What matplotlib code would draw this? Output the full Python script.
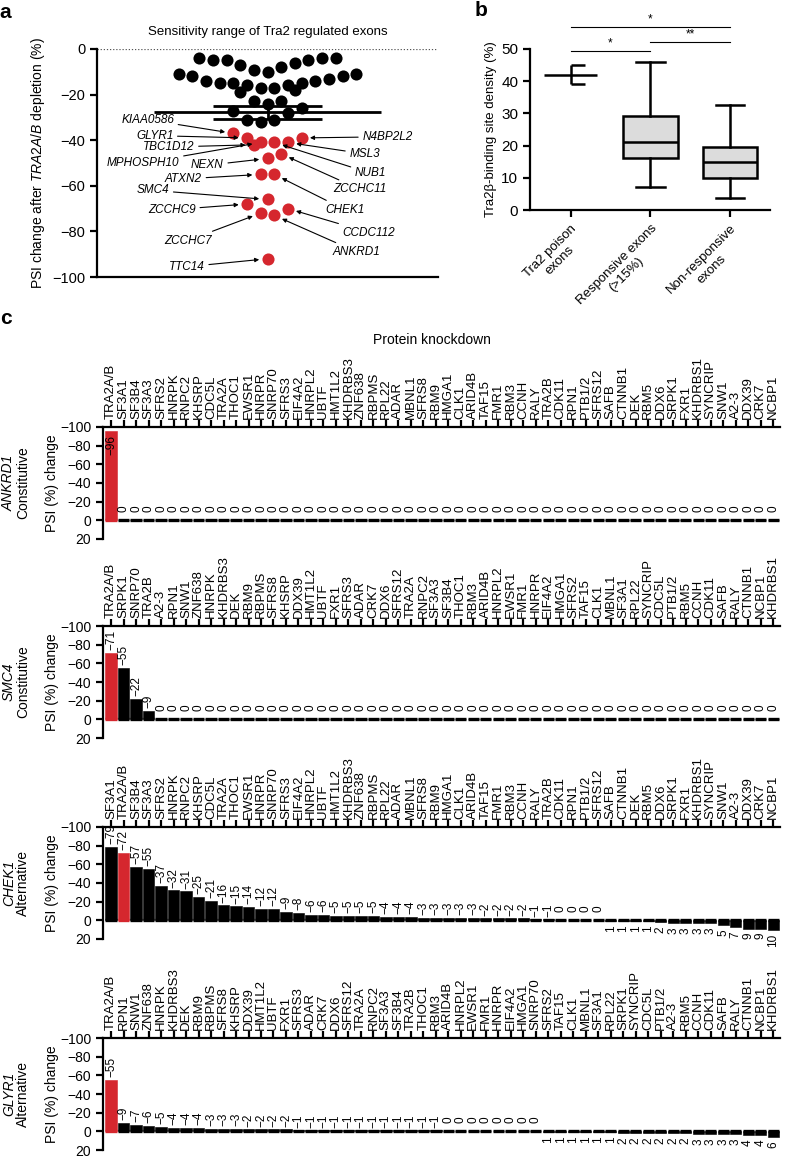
import numpy as np
import matplotlib
matplotlib.use("Agg")
import matplotlib.pyplot as plt

plt.rcParams['font.family'] = ['Liberation Sans', 'DejaVu Sans']
plt.rcParams['mathtext.fontset'] = 'custom'
plt.rcParams['mathtext.rm'] = 'Liberation Sans'
plt.rcParams['mathtext.it'] = 'Liberation Sans:italic'
plt.rcParams['axes.linewidth'] = 1.6
plt.rcParams['xtick.major.width'] = 1.6
plt.rcParams['ytick.major.width'] = 1.6

RED = '#d5272e'
W, H = 788, 1159

# ---- panel a: PSI change of Tra2 regulated exons (swarm position, value)
black_x = [-10, -8, -6, -4, -2, 0, 2, 4, 6, 8, 10,
           -13, -11, -9, -7, -5, -3, -1, 1, 3, 4, 5, 7, 9, 11, 13, -4,
           -2, 0, 2, -5, 5, 3, -3, -1, 1]
black_psi = [-4, -5, -5, -7, -9, -10, -8, -6, -5, -4, -4,
             -11, -12, -14, -15, -15, -16, -17, -17, -16, -18, -15, -14, -13, -12, -11, -19,
             -23, -24, -23, -27, -26, -28, -31, -32, -31]
red_x = [-5, -3, -2, -1, 1, 3, 5, 2, 0, -1, 1, 0, -3, -1, 1, 3, 0]
red_psi = [-37, -39, -42, -41, -41, -41, -39, -46, -48, -55, -55, -66, -68, -72, -73, -70, -92]
red_genes = ["KIAA0586", "GLYR1", "TBC1D12", "MPHOSPH10", "NUB1", "MSL3", "N4BP2L2",
             "ZCCHC11", "NEXN", "ATXN2", "CHEK1", "SMC4", "ZCCHC9", "ZCCHC7", "ANKRD1",
             "CCDC112", "TTC14"]
# label text positions (x, y, side)
label_pos = {
    "KIAA0586": (-13.7, -31, 'right'), "GLYR1": (-13.8, -38, 'right'),
    "TBC1D12": (-10.7, -43, 'right'), "MPHOSPH10": (-12.9, -50, 'right'),
    "NEXN": (-6.4, -51, 'right'), "ATXN2": (-9.6, -57, 'right'),
    "SMC4": (-14.4, -62, 'right'), "ZCCHC9": (-10.5, -70.5, 'right'),
    "ZCCHC7": (-8.2, -84, 'right'), "TTC14": (-9.2, -95.5, 'right'),
    "N4BP2L2": (13.9, -38.5, 'left'), "MSL3": (12.0, -46, 'left'),
    "NUB1": (12.8, -54.5, 'left'), "ZCCHC11": (9.6, -61.5, 'left'),
    "CHEK1": (8.5, -70.5, 'left'), "CCDC112": (11.0, -80.5, 'left'),
    "ANKRD1": (9.6, -89, 'left'),
}

# ---- panel b: Tra2beta binding site density
poison_mean = 42
poison_range = (39, 45)
box_names = ["Tra2 poison\nexons", "Responsive exons\n(>15%)", "Non-responsive\nexons"]
resp_stats = dict(whislo=7.2, q1=16, med=21.2, q3=29.3, whishi=46)
nonresp_stats = dict(whislo=3.8, q1=10, med=15, q3=19.5, whishi=32.6)

# ---- panel c: PSI change per protein knockdown
order_ankrd1 = ["TRA2A/B", "SF3A1", "SF3B4", "SF3A3", "SFRS2", "HNRPK", "RNPC2", "KHSRP", "CDC5L",
                "TRA2A", "THOC1", "EWSR1", "HNRPR", "SNRP70", "SFRS3", "EIF4A2", "HNRPL2", "UBTF",
                "HMT1L2", "KHDRBS3", "ZNF638", "RBPMS", "RPL22", "ADAR", "MBNL1", "SFRS8", "RBM9",
                "HMGA1", "CLK1", "ARID4B", "TAF15", "FMR1", "RBM3", "CCNH", "RALY", "TRA2B", "CDK11",
                "RPN1", "PTB1/2", "SFRS12", "SAFB", "CTNNB1", "DEK", "RBM5", "DDX6", "SRPK1", "FXR1",
                "KHDRBS1", "SYNCRIP", "SNW1", "A2-3", "DDX39", "CRK7", "NCBP1"]
psi_ankrd1 = [-96, 0, 0, 0, 0, 0, 0, 0, 0, 0, 0, 0, 0, 0, 0, 0, 0, 0, 0, 0, 0, 0, 0, 0, 0, 0, 0,
              0, 0, 0, 0, 0, 0, 0, 0, 0, 0, 0, 0, 0, 0, 0, 0, 0, 0, 0, 0, 0, 0, 0, 0, 0, 0, 0]

order_smc4 = ["TRA2A/B", "SRPK1", "SNRP70", "TRA2B", "A2-3", "RPN1", "SNW1", "ZNF638", "HNRPK",
              "KHDRBS3", "DEK", "RBM9", "RBPMS", "SFRS8", "KHSRP", "DDX39", "HMT1L2", "UBTF", "FXR1",
              "SFRS3", "ADAR", "CRK7", "DDX6", "SFRS12", "TRA2A", "RNPC2", "SF3A3", "SF3B4", "THOC1",
              "RBM3", "ARID4B", "HNRPL2", "EWSR1", "FMR1", "HNRPR", "EIF4A2", "HMGA1", "SFRS2",
              "TAF15", "CLK1", "MBNL1", "SF3A1", "RPL22", "SYNCRIP", "CDC5L", "PTB1/2", "RBM5",
              "CCNH", "CDK11", "SAFB", "RALY", "CTNNB1", "NCBP1", "KHDRBS1"]
psi_smc4 = [-71, -55, -22, -9, 0, 0, 0, 0, 0, 0, 0, 0, 0, 0, 0, 0, 0, 0, 0, 0, 0, 0, 0, 0, 0, 0, 0,
            0, 0, 0, 0, 0, 0, 0, 0, 0, 0, 0, 0, 0, 0, 0, 0, 0, 0, 0, 0, 0, 0, 0, 0, 0, 0, 0]

order_chek1 = ["SF3A1", "TRA2A/B", "SF3B4", "SF3A3", "SFRS2", "HNRPK", "RNPC2", "KHSRP", "CDC5L",
               "TRA2A", "THOC1", "EWSR1", "HNRPR", "SNRP70", "SFRS3", "EIF4A2", "HNRPL2", "UBTF",
               "HMT1L2", "KHDRBS3", "ZNF638", "RBPMS", "RPL22", "ADAR", "MBNL1", "SFRS8", "RBM9",
               "HMGA1", "CLK1", "ARID4B", "TAF15", "FMR1", "RBM3", "CCNH", "RALY", "TRA2B", "CDK11",
               "RPN1", "PTB1/2", "SFRS12", "SAFB", "CTNNB1", "DEK", "RBM5", "DDX6", "SRPK1", "FXR1",
               "KHDRBS1", "SYNCRIP", "SNW1", "A2-3", "DDX39", "CRK7", "NCBP1"]
psi_chek1 = [-79, -72, -57, -55, -37, -32, -31, -25, -21, -16, -15, -14, -12, -12, -9, -8, -6, -6,
             -5, -5, -5, -5, -4, -4, -4, -3, -3, -3, -3, -3, -2, -2, -2, -2, -1, -1, 0, 0, 0, 0,
             1, 1, 1, 1, 2, 3, 3, 3, 3, 5, 7, 9, 9, 10]

order_glyr1 = ["TRA2A/B", "RPN1", "SNW1", "ZNF638", "HNRPK", "KHDRBS3", "DEK", "RBM9", "RBPMS",
               "SFRS8", "KHSRP", "DDX39", "HMT1L2", "UBTF", "FXR1", "SFRS3", "ADAR", "CRK7", "DDX6",
               "SFRS12", "TRA2A", "RNPC2", "SF3A3", "SF3B4", "TRA2B", "THOC1", "RBM3", "ARID4B",
               "HNRPL2", "EWSR1", "FMR1", "HNRPR", "EIF4A2", "HMGA1", "SNRP70", "SFRS2", "TAF15",
               "CLK1", "MBNL1", "SF3A1", "RPL22", "SRPK1", "SYNCRIP", "CDC5L", "PTB1/2", "A2-3",
               "RBM5", "CCNH", "CDK11", "SAFB", "RALY", "CTNNB1", "NCBP1", "KHDRBS1"]
psi_glyr1 = [-55, -9, -7, -6, -5, -4, -4, -4, -3, -3, -3, -2, -2, -2, -2,
             -1, -1, -1, -1, -1, -1, -1, -1, -1, -1, -1, -1, 0, 0, 0, 0, 0, 0, 0, 0,
             1, 1, 1, 1, 1, 1, 2, 2, 2, 2, 2, 2, 3, 3, 3, 3, 4, 4, 6]

fig = plt.figure(figsize=(W / 100, H / 100), dpi=100)

# ================= panel a =================
ax = fig.add_axes([97 / W, 1 - 277 / H, 341 / W, 228 / H])
ax.scatter(black_x, black_psi, s=76, color='black', zorder=3, linewidths=0)
ax.scatter(red_x, red_psi, s=76, color=RED, zorder=3, linewidths=0)
allv = np.array(black_psi + red_psi, dtype=float)
m = allv.mean()
sem = allv.std(ddof=1) / np.sqrt(len(allv))
ax.hlines(m, -16.7, 16.7, color='black', lw=2, zorder=4)
ax.hlines([m - sem, m + sem], -8, 8, color='black', lw=2, zorder=4)
ax.vlines(0, m - sem, m + sem, color='black', lw=2, zorder=4)
ax.axhline(0, color='#555555', lw=0.9, ls=(0, (1, 1.5)))
for i, g in enumerate(red_genes):
    tx, ty, side = label_pos[g]
    ax.annotate(g, xy=(red_x[i], red_psi[i]), xytext=(tx, ty), ha=side, va='center',
                fontsize=8.5, fontstyle='italic',
                arrowprops=dict(arrowstyle='-|>', color='black', lw=0.8,
                                mutation_scale=6, shrinkA=1, shrinkB=6))
ax.set_xlim(-25, 25)
ax.set_ylim(-100, 0)
ax.set_yticks([0, -20, -40, -60, -80, -100])
ax.set_xticks([])
ax.tick_params(axis='y', labelsize=10.5, length=5, direction='out')
ax.spines['top'].set_visible(False)
ax.spines['right'].set_visible(False)
ax.set_ylabel(r"PSI change after $\it{TRA2A/B}$ depletion (%)", fontsize=10, labelpad=4)
ax.set_title("Sensitivity range of Tra2 regulated exons", fontsize=9.5, pad=10)

# ================= panel b =================
ax = fig.add_axes([530 / W, 1 - 210 / H, 240 / W, 161 / H])
ax.hlines(poison_mean, 0.67, 1.33, color='black', lw=1.8)
ax.vlines(1, poison_range[0], poison_range[1], color='black', lw=1.8)
ax.hlines(list(poison_range), 1, 1.18, color='black', lw=1.8)
ax.bxp([resp_stats, nonresp_stats], positions=[2, 3], widths=0.68, capwidths=0.36,
       patch_artist=True, showfliers=False,
       boxprops=dict(facecolor='#dcdcdc', edgecolor='black', linewidth=1.8),
       medianprops=dict(color='black', linewidth=1.8),
       whiskerprops=dict(color='black', linewidth=1.8),
       capprops=dict(color='black', linewidth=1.8))
for x0, x1, yl, star in [(1, 1.99, 49.4, '*'), (2.0, 3.0, 52.2, '**'), (1, 3, 56.8, '*')]:
    ax.plot([x0, x1], [yl, yl], color='black', lw=0.8, clip_on=False)
    ax.text((x0 + x1) / 2, yl + 0.6, star, ha='center', va='bottom', fontsize=8.5)
ax.set_xlim(0.49, 3.5)
ax.set_ylim(0, 50)
ax.set_yticks([0, 10, 20, 30, 40, 50])
ax.set_xticks([1, 2, 3])
ax.set_xticklabels(box_names, rotation=45, ha='right', rotation_mode='anchor',
                   multialignment='center', fontsize=9.5)
ax.tick_params(axis='y', labelsize=11, length=5)
ax.tick_params(axis='x', length=5, pad=4)
ax.spines['top'].set_visible(False)
ax.spines['right'].set_visible(False)
ax.set_ylabel("Tra2β-binding site density (%)", fontsize=9.5, labelpad=3)

# ================= panel c =================
panels = [("ANKRD1", "Constitutive", order_ankrd1, psi_ankrd1, 427),
          ("SMC4", "Constitutive", order_smc4, psi_smc4, 626),
          ("CHEK1", "Alternative", order_chek1, psi_chek1, 827),
          ("GLYR1", "Alternative", order_glyr1, psi_glyr1, 1038)]
for gene, kind, order, psi, top in panels:
    ax = fig.add_axes([103 / W, 1 - (top + 112) / H, 677 / W, 112 / H])
    x = np.arange(len(order))
    colors = [RED if g == "TRA2A/B" else 'black' for g in order]
    ax.bar(x, psi, width=0.9, color=colors, edgecolor=colors, linewidth=0.4)
    ax.hlines(np.zeros(len(x)), x - 0.45, x + 0.45, colors=colors, lw=2.4)
    for xi, v in zip(x, psi):
        txt = "\u2212%d" % abs(v) if v < 0 else str(v)
        if v <= -90:
            ax.annotate(txt, (xi, v), xytext=(0, -3), textcoords='offset points',
                        rotation=90, ha='center', va='top', fontsize=8.5)
        elif v < 0:
            ax.annotate(txt, (xi, v), xytext=(0, 2), textcoords='offset points',
                        rotation=90, ha='center', va='bottom', fontsize=8.5)
        elif v == 0:
            ax.annotate(txt, (xi, v), xytext=(0, 6), textcoords='offset points',
                        rotation=90, ha='center', va='bottom', fontsize=8.5)
        else:
            ax.annotate(txt, (xi, v), xytext=(0, -3), textcoords='offset points',
                        rotation=90, ha='center', va='top', fontsize=8.5)
    ax.set_xlim(-0.65, 53.55)
    ax.set_ylim(20, -100)
    ax.set_yticks([-100, -80, -60, -40, -20, 0, 20])
    ax.xaxis.tick_top()
    ax.set_xticks(x)
    ax.set_xticklabels(order, rotation=90, fontsize=9.5)
    ax.tick_params(axis='x', length=5, pad=1)
    ax.tick_params(axis='y', labelsize=10, length=5)
    ax.spines['bottom'].set_visible(False)
    ax.spines['right'].set_visible(False)
    yc = 1 - (top + 56) / H
    fig.text(9 / W, yc, gene, rotation=90, ha='center', va='center', fontsize=10,
             fontstyle='italic')
    fig.text(23 / W, yc, kind, rotation=90, ha='center', va='center', fontsize=10)
    fig.text(52 / W, yc, "PSI (%) change", rotation=90, ha='center', va='center', fontsize=10)

fig.text(432 / W, 1 - 340 / H, "Protein knockdown", ha='center', va='center', fontsize=10)

fig.text(5 / W, 1 - 12 / H, "a", fontsize=15, fontweight='bold', ha='center', va='center')
fig.text(481 / W, 1 - 10 / H, "b", fontsize=15, fontweight='bold', ha='center', va='center')
fig.text(6 / W, 1 - 318 / H, "c", fontsize=15, fontweight='bold', ha='center', va='center')

fig.savefig("out.png", dpi=100)
